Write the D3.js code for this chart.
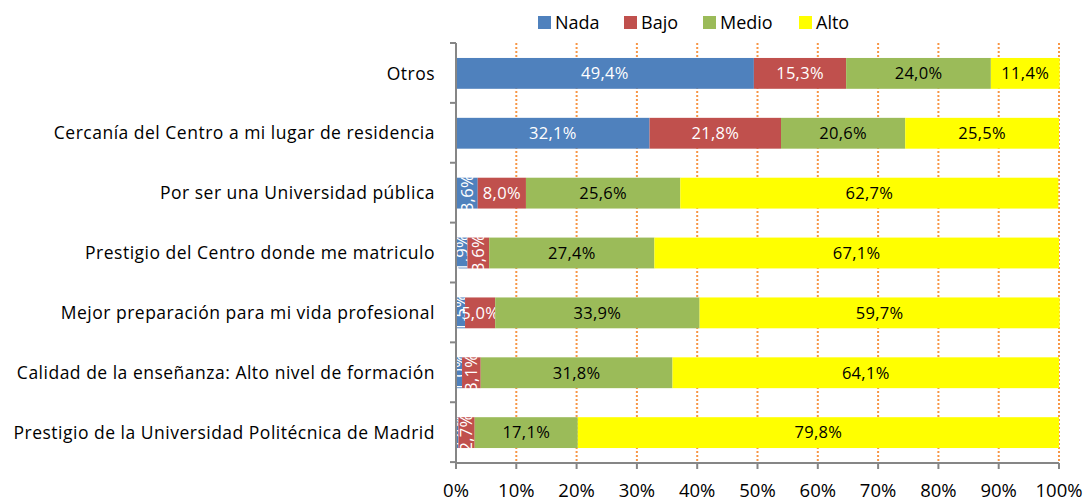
<!DOCTYPE html>
<html>
<head>
<meta charset="utf-8">
<script src="https://cdn.jsdelivr.net/npm/d3@7"></script>
<style>
  body { margin: 0; background: #fff; }
  text { font-family: "Open Sans", "Liberation Sans", sans-serif; }
</style>
</head>
<body>
<div id="chart"></div>
<script>
// categories, top to bottom
var categories = [
  "Otros",
  "Cercanía del Centro a mi lugar de residencia",
  "Por ser una Universidad pública",
  "Prestigio del Centro donde me matriculo",
  "Mejor preparación para mi vida profesional",
  "Calidad de la enseñanza: Alto nivel de formación",
  "Prestigio de la Universidad Politécnica de Madrid"
];
var seriesNames = ["Nada", "Bajo", "Medio", "Alto"];
var nada  = [49.4, 32.1, 3.6, 1.9, 1.5, 1.0, 0.4];
var bajo  = [15.3, 21.8, 8.0, 3.6, 5.0, 3.1, 2.7];
var medio = [24.0, 20.6, 25.6, 27.4, 33.9, 31.8, 17.1];
var alto  = [11.4, 25.5, 62.7, 67.1, 59.7, 64.1, 79.8];
var tickValues = [0, 10, 20, 30, 40, 50, 60, 70, 80, 90, 100];

var colors = ["#4F81BD", "#C0504D", "#9BBB59", "#FFFF00"];
var labelColors = ["#fff", "#fff", "#000", "#000"];

var W = 1086, H = 501;
var plotLeft = 456, plotRight = 1059, plotTop = 43, plotBottom = 463;

var svg = d3.select("#chart").append("svg")
  .attr("width", W).attr("height", H);

var x = d3.scaleLinear().domain([0, 100]).range([plotLeft, plotRight]);
var y = d3.scaleBand().domain(categories).range([plotTop, plotBottom]).paddingInner(0.485).paddingOuter(0.25);

// gridlines
svg.append("g").selectAll("line")
  .data(tickValues.slice(1))
  .enter().append("line")
  .attr("x1", function(d) { return x(d); })
  .attr("x2", function(d) { return x(d); })
  .attr("y1", plotTop).attr("y2", plotBottom)
  .style("stroke", "#F79646")
  .style("stroke-width", 2)
  .style("stroke-dasharray", "2,2");

// stacking
var rows = categories.map(function(c, i) {
  return { cat: c, Nada: nada[i], Bajo: bajo[i], Medio: medio[i], Alto: alto[i] };
});
var stack = d3.stack().keys(seriesNames)(rows);

var layers = svg.append("g").selectAll("g")
  .data(stack).enter().append("g")
  .attr("fill", function(d, i) { return colors[i]; });

layers.selectAll("rect")
  .data(function(d) { return d; })
  .enter().append("rect")
  .attr("x", function(d) { return x(d[0]); })
  .attr("y", function(d) { return y(d.data.cat); })
  .attr("width", function(d) { return x(d[1]) - x(d[0]); })
  .attr("height", y.bandwidth());

// axes
var axisColor = "#868686";
svg.append("line")
  .attr("x1", plotLeft).attr("x2", plotLeft).attr("y1", plotTop).attr("y2", plotBottom)
  .style("stroke", axisColor).style("stroke-width", 2);
svg.append("line")
  .attr("x1", plotLeft).attr("x2", plotRight).attr("y1", plotBottom).attr("y2", plotBottom)
  .style("stroke", axisColor).style("stroke-width", 2);

// left tick marks at band boundaries
var step = y.step();
var bounds = d3.range(categories.length + 1).map(function(i) { return plotTop + i * step; });
svg.append("g").selectAll("line").data(bounds).enter().append("line")
  .attr("x1", plotLeft - 6).attr("x2", plotLeft)
  .attr("y1", function(d) { return d; }).attr("y2", function(d) { return d; })
  .style("stroke", axisColor).style("stroke-width", 2);

// bottom tick marks
svg.append("g").selectAll("line").data(tickValues).enter().append("line")
  .attr("x1", function(d) { return x(d); }).attr("x2", function(d) { return x(d); })
  .attr("y1", plotBottom).attr("y2", plotBottom + 6)
  .style("stroke", axisColor).style("stroke-width", 2);

// tick labels
svg.append("g").selectAll("text").data(tickValues).enter().append("text")
  .attr("x", function(d) { return x(d); })
  .attr("y", 497)
  .attr("text-anchor", "middle")
  .style("font-size", "18.5px")
  .style("fill", "#000")
  .text(function(d) { return d + "%"; });

// category labels
svg.append("g").selectAll("text").data(categories).enter().append("text")
  .attr("x", 435)
  .attr("y", function(d) { return y(d) + y.bandwidth() / 2; })
  .attr("dy", "0.35em")
  .attr("text-anchor", "end")
  .style("font-size", "17.5px")
  .style("letter-spacing", "0.5px")
  .style("fill", "#000")
  .text(function(d) { return d; });

// data labels
function fmt(v) { return v.toFixed(1).replace(".", ",") + "%"; }
layers.each(function(layer, li) {
  d3.select(this).selectAll("text")
    .data(layer).enter().append("text")
    .attr("transform", function(d) {
      var cx = (x(d[0]) + x(d[1])) / 2;
      var cy = y(d.data.cat) + y.bandwidth() / 2;
      var v = d[1] - d[0];
      return "translate(" + cx + "," + cy + ")" + (v < 4.5 ? "rotate(-90)" : "");
    })
    .attr("dy", "0.35em")
    .attr("text-anchor", "middle")
    .style("font-size", "16.5px")
    .style("letter-spacing", "0.3px")
    .style("fill", labelColors[li])
    .text(function(d) { return fmt(d[1] - d[0]); });
});

// legend
var legendX = [538, 624, 703, 799];
var legend = svg.append("g").selectAll("g").data(seriesNames).enter().append("g")
  .attr("transform", function(d, i) { return "translate(" + legendX[i] + ",16)"; });
legend.append("rect").attr("width", 13).attr("height", 13)
  .attr("fill", function(d, i) { return colors[i]; });
legend.append("text").attr("x", 17).attr("y", 7).attr("dy", "0.35em")
  .style("font-size", "18px").style("fill", "#000")
  .text(function(d) { return d; });
</script>
</body>
</html>
